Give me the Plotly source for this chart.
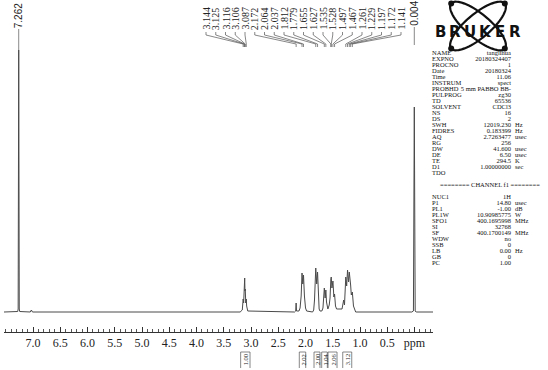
import numpy as np
import plotly.graph_objects as go

W, H = 548, 370

# ---------------- data ----------------
spec_ppm = [7.532, 7.28, 7.272, 7.262, 7.252, 7.244, 7.05, 7.03, 7.01,
            3.20, 3.16, 3.15, 3.144, 3.135, 3.125, 3.12, 3.116, 3.111, 3.106, 3.096, 3.087, 3.08, 3.06,
            2.20, 2.18, 2.172, 2.165, 2.12, 2.10, 2.08, 2.064, 2.05, 2.037, 2.02, 2.00, 1.98,
            1.87, 1.85, 1.835, 1.812, 1.795, 1.779, 1.765, 1.75, 1.735,
            1.70, 1.68, 1.665, 1.655, 1.64, 1.627, 1.615, 1.60,
            1.59, 1.565, 1.55, 1.535, 1.532, 1.528, 1.515, 1.497, 1.48, 1.467, 1.45, 1.43,
            1.33, 1.30, 1.285, 1.261, 1.245, 1.229, 1.21, 1.197, 1.185, 1.172, 1.16, 1.141, 1.12, 1.10, 1.08,
            0.05, 0.02, 0.004, -0.012, -0.03, -0.339]
spec_int = [0, 0.5, 3, 262, 3, 0.5, 0, 2, 0,
            0, 2, 6, 13, 9, 23, 19, 34, 21, 23, 9, 13, 6, 1,
            0, 1, 9, 1, 1, 4, 16, 39, 28, 37, 16, 4, 1,
            0, 2, 12, 44, 28, 40, 16, 3, 1,
            1, 4, 13, 24, 14, 22, 10, 4,
            3, 7, 14, 33, 30, 35, 24, 31, 15, 18, 6, 3,
            3, 12, 7, 35, 26, 42, 30, 40, 28, 27, 17, 20, 6, 2, 0,
            0, 1, 205, 1, 0, 0]

peak_labels = ["3.144", "3.125", "3.116", "3.106", "3.087", "2.172", "2.064", "2.037",
               "1.812", "1.779", "1.655", "1.627", "1.535", "1.528", "1.497", "1.467",
               "1.261", "1.229", "1.197", "1.172", "1.141"]
peak_ppm = [3.144, 3.125, 3.116, 3.106, 3.087, 2.172, 2.064, 2.037,
            1.812, 1.779, 1.655, 1.627, 1.535, 1.528, 1.497, 1.467,
            1.261, 1.229, 1.197, 1.172, 1.141]
solvent_label, solvent_ppm = "7.262", 7.262
ref_label, ref_ppm = "0.004", 0.004

integral_values = ["1.00", "2.02", "2.00", "1.04", "2.06", "3.12"]
integral_from = [3.19, 2.114, 1.844, 1.703, 1.587, 1.317]
integral_to = [3.018, 1.996, 1.734, 1.600, 1.422, 1.152]

tick_vals = [7.0, 6.5, 6.0, 5.5, 5.0, 4.5, 4.0, 3.5, 3.0, 2.5, 2.0, 1.5, 1.0, 0.5, 0.0]
tick_text = ["7.0", "6.5", "6.0", "5.5", "5.0", "4.5", "4.0", "3.5", "3.0", "2.5",
             "2.0", "1.5", "1.0", "0.5", "ppm"]

param_names = ["NAME", "EXPNO", "PROCNO", "Date", "Time", "INSTRUM", "PROBHD", "PULPROG",
               "TD", "SOLVENT", "NS", "DS", "SWH", "FIDRES", "AQ", "RG", "DW", "DE",
               "TE", "D1", "TDO"]
param_values = ["tanglihua", "20180324407", "1", "20180324", "11.06", "spect",
                "5 mm PABBO BB-", "zg30", "65536", "CDCl3", "16", "2", "12019.230",
                "0.183399", "2.7263477", "256", "41.600", "6.50", "294.5", "1.00000000", ""]
param_units = ["", "", "", "", "", "", "", "", "", "", "", "", "Hz", "Hz", "usec", "",
               "usec", "usec", "K", "sec", ""]

channel_title = "======== CHANNEL f1 ========"
chan_names = ["NUC1", "P1", "PL1", "PL1W", "SFO1", "SI", "SF", "WDW", "SSB", "LB", "GB", "PC"]
chan_values = ["1H", "14.80", "-1.00", "10.90985775", "400.1695998", "32768",
               "400.1700149", "no", "0", "0.00", "0", "1.00"]
chan_units = ["", "usec", "dB", "W", "MHz", "", "MHz", "", "", "Hz", "", ""]

# ---------------- geometry helpers ----------------
XL, XR = 4, 433
R0, R1 = 7.532, -0.339


def X(px):
    return px / W


def Y(py):
    return 1 - py / H


def ppm2px(p):
    return XL + (R0 - p) / (R0 - R1) * (XR - XL)


fig = go.Figure()
fig.add_trace(go.Scatter(x=spec_ppm, y=spec_int, mode="lines",
                         line=dict(color="#4a4a4a", width=1), hoverinfo="skip"))

shapes = []
ann = []
LINE = dict(color="#555555", width=0.7)

# peak labels with connector lines
n = len(peak_labels)
lx0, lx1 = 206, 401
for i, (lab, p) in enumerate(zip(peak_labels, peak_ppm)):
    lx = lx0 + (lx1 - lx0) * i / (n - 1)
    pk = ppm2px(p)
    ann.append(dict(x=X(lx), y=Y(31), xref="paper", yref="paper", text=lab, textangle=-90,
                    showarrow=False, xanchor="center", yanchor="bottom", borderpad=0,
                    font=dict(family="Liberation Serif", size=10, color="#222")))
    shapes.append(dict(type="path", xref="paper", yref="paper", line=LINE,
                       path=f"M {X(lx)},{Y(32)} L {X(lx)},{Y(35)} L {X(pk)},{Y(44)} L {X(pk)},{Y(47)}"))

for lab, p, top, peaktop in [(solvent_label, solvent_ppm, 29, 50), (ref_label, ref_ppm, 27, 45)]:
    pk = ppm2px(p)
    ann.append(dict(x=X(pk), y=Y(top), xref="paper", yref="paper", text=lab, textangle=-90,
                    showarrow=False, xanchor="center", yanchor="bottom", borderpad=0,
                    font=dict(family="Liberation Sans", size=10, color="#222")))
    shapes.append(dict(type="line", xref="paper", yref="paper", line=LINE,
                       x0=X(pk), x1=X(pk), y0=Y(top), y1=Y(peaktop)))

# integrals
for v, a, b in zip(integral_values, integral_from, integral_to):
    x0, x1 = ppm2px(a), ppm2px(b)
    shapes.append(dict(type="path", xref="paper", yref="paper", line=dict(color="#555", width=0.7),
                       path=f"M {X(x0)},{Y(368)} L {X(x0)},{Y(352)} L {X(x1)},{Y(352)} L {X(x1)},{Y(368)}"))
    ann.append(dict(x=X((x0 + x1) / 2), y=Y(360), xref="paper", yref="paper", text=v, textangle=-90,
                    showarrow=False, xanchor="center", yanchor="middle", borderpad=0,
                    font=dict(family="Liberation Serif", size=6.5, color="#222")))

# parameter table as text traces on a pixel-coordinate overlay axis
NX, VX, UX = 432, 511, 515
tx, ty, tt, tp = [], [], [], []


def add_row(y, name, val, unit):
    tx.append(NX); ty.append(y); tt.append(name); tp.append("middle right")
    if val:
        tx.append(VX); ty.append(y); tt.append(val); tp.append("middle left")
    if unit:
        tx.append(UX); ty.append(y); tt.append(unit); tp.append("middle right")


y = 53
for nm, v, u in zip(param_names, param_values, param_units):
    add_row(y, nm, v, u)
    y += 6
tx.append(490); ty.append(185); tt.append(channel_title); tp.append("middle center")
y = 197
for nm, v, u in zip(chan_names, chan_values, chan_units):
    add_row(y, nm, v, u)
    y += 6

fig.add_trace(go.Scatter(x=tx, y=ty, text=tt, mode="text", textposition=tp,
                         textfont=dict(family="Liberation Serif", size=6.5, color="#111"),
                         xaxis="x2", yaxis="y2", hoverinfo="skip", cliponaxis=False))

# Bruker logo
cx, cy, a, b = 478, 26, 35, 12
t = np.linspace(0, 2 * np.pi, 73)
for ang in (np.deg2rad(40), np.deg2rad(-40)):
    xs = cx + a * np.cos(t) * np.cos(ang) - b * np.sin(t) * np.sin(ang)
    ys = cy + a * np.cos(t) * np.sin(ang) + b * np.sin(t) * np.cos(ang)
    path = "M " + " L ".join(f"{X(px)},{Y(py)}" for px, py in zip(xs, ys)) + " Z"
    shapes.append(dict(type="path", xref="paper", yref="paper", path=path,
                       line=dict(color="#111", width=2.2)))
    for s in (1, -1):
        dx, dy = cx + s * a * np.cos(ang), cy + s * a * np.sin(ang)
        shapes.append(dict(type="circle", xref="paper", yref="paper",
                           x0=X(dx - 3), x1=X(dx + 3), y0=Y(dy - 3), y1=Y(dy + 3),
                           fillcolor="#111", line=dict(width=0)))
for i, ch in enumerate("BRUKER"):
    ann.append(dict(x=X(440 + 15 * i), y=Y(32), xref="paper", yref="paper", text=f"<b>{ch}</b>",
                    showarrow=False, xanchor="center", yanchor="middle", borderpad=0,
                    font=dict(family="DejaVu Sans", size=15, color="#111")))

fig.update_layout(
    width=W, height=H, margin=dict(l=0, r=0, t=0, b=0),
    paper_bgcolor="white", plot_bgcolor="rgba(0,0,0,0)", showlegend=False,
    xaxis=dict(domain=[XL / W, XR / W], range=[R0, R1], anchor="free", position=(H - 332) / H,
               showline=True, linecolor="#333", linewidth=1, ticks="inside", ticklen=5,
               tickcolor="#333", tickwidth=1, tickmode="array", tickvals=tick_vals, ticktext=tick_text,
               tickfont=dict(family="Liberation Serif", size=12, color="#222"),
               minor=dict(tickmode="linear", tick0=0, dtick=0.1, ticks="inside", ticklen=3,
                          tickcolor="#555", tickwidth=1),
               showgrid=False, zeroline=False),
    yaxis=dict(domain=[(H - 314) / H, 1], range=[-2, 312], visible=False),
    xaxis2=dict(domain=[0, 1], range=[0, W], anchor="y2", visible=False, fixedrange=True),
    yaxis2=dict(domain=[0, 1], range=[H, 0], anchor="x2", visible=False, fixedrange=True),
    shapes=shapes, annotations=ann,
)

fig.write_html("out.html", config={"displayModeBar": False},
               post_script="document.body.style.margin='0';document.body.style.overflow='hidden';")
